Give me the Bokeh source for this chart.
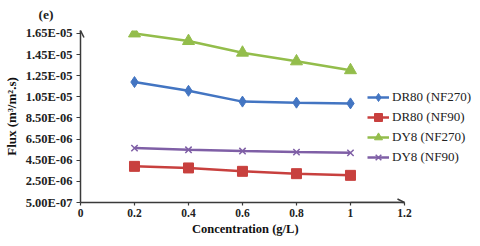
from bokeh.plotting import figure
from bokeh.models import Range1d, FixedTicker, CustomJSTickFormatter, Legend, LegendItem, Arrow, OpenHead
from bokeh.embed import file_html
from bokeh.resources import INLINE

# ---- data ----
concentration = [0.2, 0.4, 0.6, 0.8, 1.0]
dr80_nf270 = [1.19e-5, 1.107e-5, 1.005e-5, 9.95e-6, 9.88e-6]
dr80_nf90 = [3.92e-6, 3.77e-6, 3.45e-6, 3.23e-6, 3.07e-6]
dy8_nf270 = [1.65e-5, 1.578e-5, 1.468e-5, 1.386e-5, 1.302e-5]
dy8_nf90 = [5.65e-6, 5.49e-6, 5.37e-6, 5.27e-6, 5.2e-6]

series_names = ["DR80 (NF270)", "DR80 (NF90)", "DY8 (NF270)", "DY8 (NF90)"]
y_ticks = [5.0e-7, 2.5e-6, 4.5e-6, 6.5e-6, 8.5e-6, 1.05e-5, 1.25e-5, 1.45e-5, 1.65e-5]
x_ticks = [0, 0.2, 0.4, 0.6, 0.8, 1.0, 1.2]
x_tick_labels = ["0", "0.2", "0.4", "0.6", "0.8", "1", "1.2"]

X_MIN, X_AXIS_END, X_VIEW_MAX = 0.0, 1.2, 1.452
Y_MIN, Y_MAX = 5.0e-7, 1.678e-5

SERIF = "Liberation Serif"
AXIS_COLOR = "#3a3a3a"

p = figure(width=472, height=238, output_backend="svg", toolbar_location=None,
           x_range=Range1d(X_MIN, X_VIEW_MAX), y_range=Range1d(Y_MIN, Y_MAX),
           min_border_left=80, min_border_right=0, min_border_top=0, min_border_bottom=35)
p.outline_line_color = None
p.xgrid.visible = False
p.ygrid.visible = False
p.background_fill_color = "white"
p.border_fill_color = "white"

# title "(e)"
p.title.text = "(e)"
p.title.align = "left"
p.title.vertical_align = "top"
p.title.offset = -42
p.title.standoff = 13
p.title.text_font = SERIF
p.title.text_font_style = "bold"
p.title.text_font_size = "13.5px"
p.title.text_color = "#222222"

# axes
for ax in (p.xaxis[0], p.yaxis[0]):
    ax.axis_line_color = AXIS_COLOR
    ax.axis_line_width = 1.5
    ax.major_tick_line_color = AXIS_COLOR
    ax.major_tick_line_width = 1.2
    ax.minor_tick_line_color = None
    ax.major_tick_in = 0
    ax.major_label_text_font = SERIF
    ax.major_label_text_font_style = "bold"
    ax.major_label_text_color = "#222222"
    ax.axis_label_text_font = SERIF
    ax.axis_label_text_font_style = "bold"
    ax.axis_label_text_color = "#111111"

p.xaxis.bounds = (X_MIN, X_AXIS_END)
p.xaxis.ticker = FixedTicker(ticks=x_ticks)
p.xaxis.major_label_overrides = {t: l for t, l in zip(x_ticks, x_tick_labels)}
p.xaxis.major_tick_out = 3
p.xaxis.major_label_standoff = 3
p.xaxis.major_label_text_font_size = "11.5px"
p.xaxis.axis_label = "Concentration (g/L)" + "\u00a0" * 20
p.xaxis.axis_label_text_font_size = "12.5px"
p.xaxis.axis_label_standoff = 2

p.yaxis.ticker = FixedTicker(ticks=y_ticks)
p.yaxis.formatter = CustomJSTickFormatter(code="""
const s = tick.toExponential(2).split('e');
const e = parseInt(s[1]);
const a = Math.abs(e);
return s[0] + 'E' + (e < 0 ? '-' : '+') + (a < 10 ? '0' : '') + a;
""")
p.yaxis.major_tick_out = 4
p.yaxis.major_label_standoff = 4
p.yaxis.major_label_text_font_size = "12.5px"
p.yaxis.axis_label = "Flux (m\u00b3/m\u00b2.s)"
p.yaxis.axis_label_text_font_size = "13px"
p.yaxis.axis_label_standoff = 4

# arrow heads at the axis ends
p.add_layout(Arrow(end=OpenHead(size=7, line_width=1.5, line_color=AXIS_COLOR),
                   line_color=AXIS_COLOR, line_width=1.5,
                   x_start=X_MIN, y_start=y_ticks[-1], x_end=X_MIN, y_end=Y_MAX))
p.add_layout(Arrow(end=OpenHead(size=7, line_width=1.5, line_color=AXIS_COLOR),
                   line_color=AXIS_COLOR, line_width=1.5,
                   x_start=x_ticks[-2], y_start=Y_MIN, x_end=X_AXIS_END, y_end=Y_MIN))

colors = ["#4375C2", "#C8403E", "#93BD4B", "#7F5FA6"]
markers = ["diamond", "square", "triangle", "x"]
sizes = [11, 10, 12, 9]
values = [dr80_nf270, dr80_nf90, dy8_nf270, dy8_nf90]

items = []
for name, vals, c, m, s in zip(series_names, values, colors, markers, sizes):
    r1 = p.line(concentration, vals, line_color=c, line_width=2.5)
    if m == "x":
        r2 = p.scatter(concentration, vals, marker=m, size=s, line_color=c, line_width=1.5)
    else:
        r2 = p.scatter(concentration, vals, marker=m, size=s, fill_color=c, line_color=c)
    items.append(LegendItem(label=name, renderers=[r1, r2]))

legend = Legend(items=items, location=(287, 35), orientation="vertical",
                border_line_color=None, background_fill_alpha=0,
                padding=0, margin=0, spacing=0,
                label_text_font=SERIF, label_text_font_size="13px", label_text_color="#222222",
                label_height=20, glyph_height=20, glyph_width=22, label_standoff=3)
p.add_layout(legend, "center")

open("out.html", "w").write(file_html(p, INLINE))
